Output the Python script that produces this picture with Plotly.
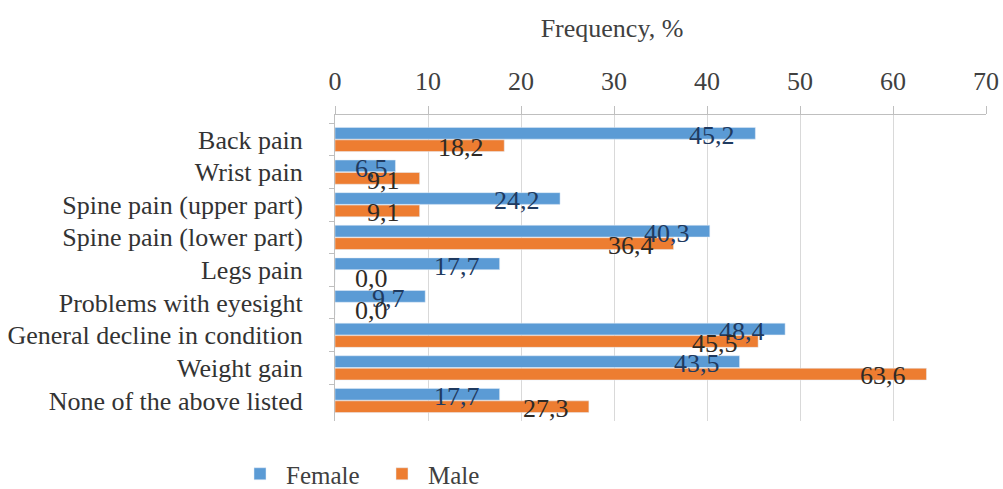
import plotly.graph_objects as go

categories = ["Back pain", "Wrist pain", "Spine pain (upper part)", "Spine pain (lower part)",
              "Legs pain", "Problems with eyesight", "General decline in condition",
              "Weight gain", "None of the above listed"]
female = [45.2, 6.5, 24.2, 40.3, 17.7, 9.7, 48.4, 43.5, 17.7]
male = [18.2, 9.1, 9.1, 36.4, 0.0, 0.0, 45.5, 63.6, 27.3]
x_ticks = [0, 10, 20, 30, 40, 50, 60, 70]

W, H = 1003, 489
ML, MR, MT, MB = 335, 17, 115, 68
FONT = "Liberation Serif, Times New Roman, serif"
XMAX = 70
px_per_unit = (W - ML - MR) / XMAX
plot_h = H - MT - MB

fig = go.Figure()
fig.add_trace(go.Bar(y=categories, x=female, name="Female", orientation="h",
                     marker_color="#5B9BD5"))
fig.add_trace(go.Bar(y=categories, x=male, name="Male", orientation="h",
                     marker_color="#ED7D31"))

def fmt(v):
    return f"{v:.1f}".replace(".", ",")

annotations = []
for series, color, off in ((female, "#1F3A60", -1), (male, "#2E2A26", 1)):
    for cat, v in zip(categories, series):
        small = v * px_per_unit < 78
        annotations.append(dict(
            x=0 if small else v, y=cat, text=fmt(v), showarrow=False,
            xanchor="left" if small else "right",
            xshift=18 if small else -18,
            yshift=-off * 7 - (3 if off < 0 else 1),
            font=dict(family=FONT, size=26, color=color),
        ))

fig.update_layout(
    width=W, height=H,
    margin=dict(l=ML, r=MR, t=MT, b=MB, autoexpand=False),
    paper_bgcolor="white", plot_bgcolor="white",
    barmode="group", bargap=0.235, bargroupgap=0.06,
    font=dict(family=FONT, size=26, color="#404040"),
    title=dict(text="Frequency, %", xref="container", x=612 / W, xanchor="center",
               yref="container", y=1 - 28 / H, yanchor="middle",
               font=dict(family=FONT, size=26, color="#404040")),
    xaxis=dict(side="top", range=[0, XMAX], tickvals=x_ticks,
               ticktext=[str(t) for t in x_ticks], automargin=False,
               showgrid=True, gridcolor="#D9D9D9", gridwidth=1,
               showline=True, linecolor="#BFBFBF", linewidth=1,
               ticks="outside", ticklen=8, tickcolor="#BFBFBF",
               ticklabelstandoff=6, zeroline=False,
               tickfont=dict(family=FONT, size=26, color="#404040")),
    yaxis=dict(autorange="reversed", showline=True, linecolor="#BFBFBF",
               ticks="outside", ticklen=5, tickcolor="#BFBFBF",
               tickson="boundaries", showgrid=False, automargin=False,
               ticklabelstandoff=26,
               tickfont=dict(family=FONT, size=26, color="#333333")),
    legend=dict(orientation="h", xref="paper", yref="paper",
                x=(234 - ML) / (W - ML - MR), xanchor="left",
                y=(H - MB - 474) / plot_h, yanchor="middle",
                font=dict(family=FONT, size=25, color="#404040"),
                itemwidth=42, entrywidth=85, entrywidthmode="pixels",
                bgcolor="rgba(0,0,0,0)"),
    annotations=annotations,
)

fig.write_html("out.html", config={"displayModeBar": False},
               post_script="document.body.style.margin='0';")
